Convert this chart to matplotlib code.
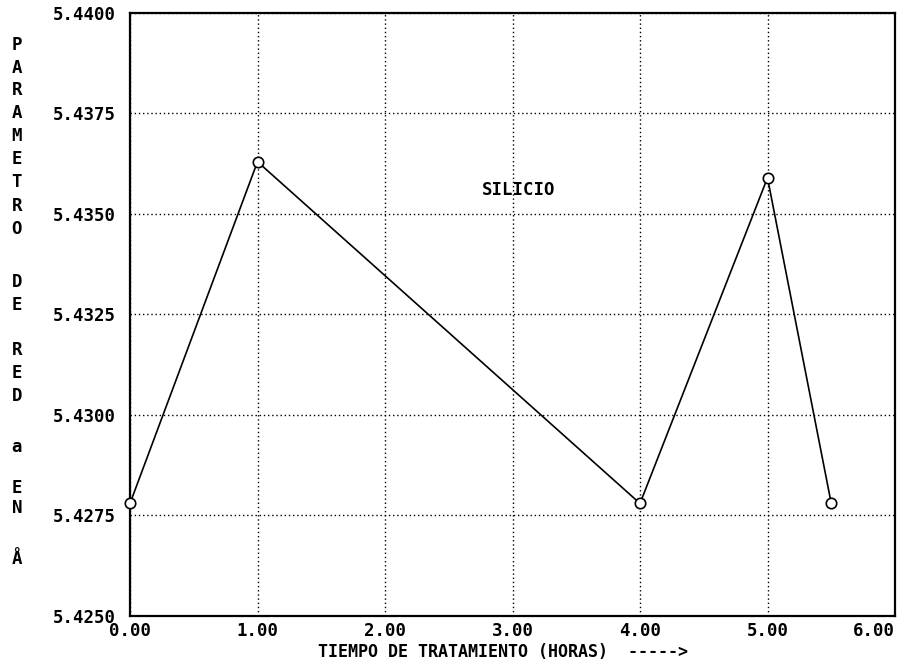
import matplotlib
matplotlib.use("Agg")
import matplotlib.pyplot as plt

# Lattice parameter of silicon versus treatment time
horas = [0.0, 1.0, 4.0, 5.0, 5.5]
parametro = [5.4278, 5.4363, 5.4278, 5.4359, 5.4278]

x_ticks = [0, 1, 2, 3, 4, 5, 6]
x_labels = ["0.00", "1.00", "2.00", "3.00", "4.00", "5.00", "6.00"]
y_ticks = [5.4250, 5.4275, 5.4300, 5.4325, 5.4350, 5.4375, 5.4400]
y_labels = ["5.4250", "5.4275", "5.4300", "5.4325", "5.4350", "5.4375", "5.4400"]

W, H = 908, 668
fig = plt.figure(figsize=(W / 100, H / 100), dpi=100)
fig.patch.set_facecolor("white")

left, right, top, bottom = 130, 895, 13, 616
ax = fig.add_axes([left / W, 1 - bottom / H, (right - left) / W, (bottom - top) / H])

mono = {"family": "DejaVu Sans Mono", "weight": "bold"}

ax.plot(horas, parametro, color="black", lw=1.2, marker="o", ms=7.5,
        mfc="white", mec="black", mew=1.2, zorder=3, clip_on=False)

ax.set_xlim(0, 6)
ax.set_ylim(5.4250, 5.4400)
ax.set_xticks(x_ticks)
ax.set_xticklabels(x_labels, fontdict=mono, fontsize=12.5)
ax.set_yticks(y_ticks)
ax.set_yticklabels(y_labels, fontdict=mono, fontsize=12.5)
ax.tick_params(length=0, pad=10)
ax.tick_params(axis="x", pad=4)
# keep the last x label inside the figure
last = ax.get_xticklabels()[-1]
last.set_horizontalalignment("right")

ax.grid(True, color="black", linestyle=(0, (1, 2.0)), linewidth=1.0)
for s in ax.spines.values():
    s.set_linewidth(1.6)
    s.set_color("black")

ax.text(3.05, 5.4356, "SILICIO", fontdict=mono, fontsize=12.5, ha="center", va="center")

fig.text(318 / W, 1 - 652 / H, "TIEMPO DE TRATAMIENTO (HORAS)  ----->",
         fontdict=mono, fontsize=12, ha="left", va="center")

# Vertically stacked axis title
letras = [("P", 45), ("A", 68), ("R", 90), ("A", 113), ("M", 136), ("E", 159),
          ("T", 182), ("R", 206), ("O", 229), ("D", 282), ("E", 305),
          ("R", 350), ("E", 373), ("D", 396), ("a", 447), ("E", 488),
          ("N", 508), ("Å", 559)]
for ch, yp in letras:
    fig.text(17 / W, 1 - yp / H, ch, fontdict=mono, fontsize=12.5,
             ha="center", va="center")

fig.savefig("out.png", dpi=100, facecolor="white")
